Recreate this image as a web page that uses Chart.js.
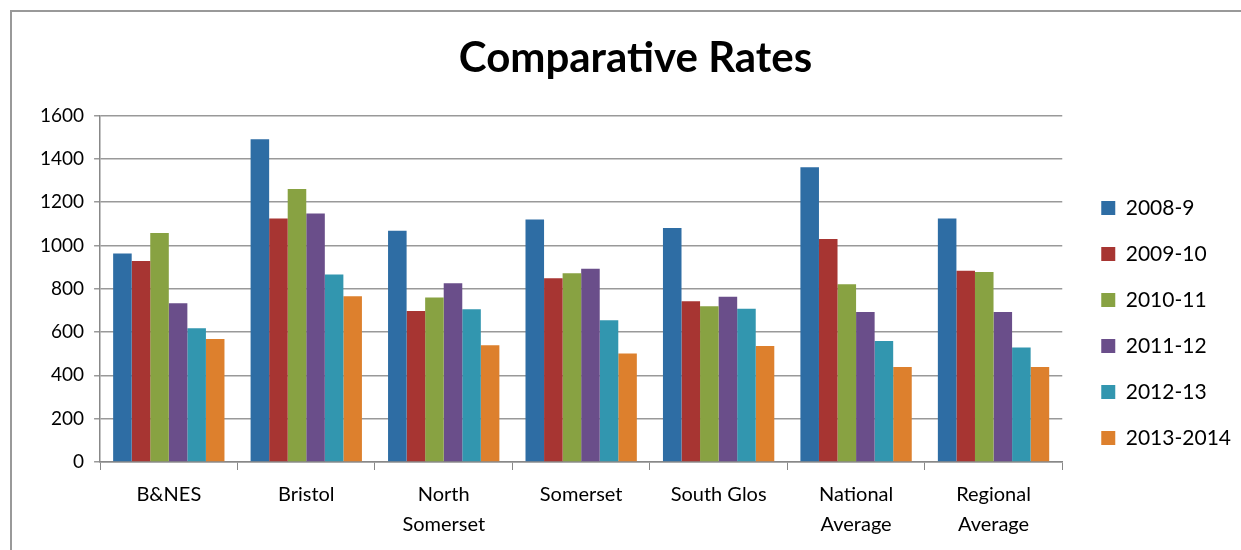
<!DOCTYPE html>
<html>
<head>
<meta charset="utf-8">
<script src="https://cdn.jsdelivr.net/npm/chart.js@4.4.1/dist/chart.umd.min.js"></script>
<style>
  body { margin: 0; background: #fff; }
  #wrap { position: relative; width: 1241px; height: 550px; }
  #frame { position: absolute; left: 10px; top: 10px; width: 1240px; height: 550px;
           border-left: 2px solid #999; border-top: 2px solid #999; }
  canvas { position: absolute; left: 0; top: 0; }
</style>
</head>
<body>
<div id="wrap">
  <div id="frame"></div>
  <canvas id="chart" width="1241" height="550"></canvas>
</div>
<script>
const categories = ["B&NES", "Bristol", ["North", "Somerset"], "Somerset", "South Glos", ["National", "Average"], ["Regional", "Average"]];
const seriesNames = ["2008-9", "2009-10", "2010-11", "2011-12", "2012-13", "2013-2014"];
const colors = ["#2E6DA4", "#A73532", "#88A242", "#6A4E8A", "#3296AF", "#DD802D"];

const y2008 = [962, 1490, 1068, 1120, 1080, 1361, 1124];
const y2009 = [928, 1124, 697, 848, 742, 1029, 883];
const y2010 = [1057, 1260, 759, 871, 719, 820, 877];
const y2011 = [733, 1147, 825, 892, 763, 693, 693];
const y2012 = [617, 866, 705, 654, 708, 558, 528];
const y2013 = [568, 765, 539, 501, 535, 438, 438];

const yTicks = [0, 200, 400, 600, 800, 1000, 1200, 1400, 1600];

const allValues = [y2008, y2009, y2010, y2011, y2012, y2013];

const font = "Lato, 'Open Sans', sans-serif";

const ctx = document.getElementById("chart").getContext("2d");

new Chart(ctx, {
  type: "bar",
  data: {
    labels: categories,
    datasets: seriesNames.map((name, i) => ({
      label: name,
      data: allValues[i],
      backgroundColor: colors[i],
      categoryPercentage: 0.81,
      barPercentage: 1.0
    }))
  },
  options: {
    responsive: false,
    animation: false,
    layout: {
      padding: { left: 30, right: 0, top: 0, bottom: 0 }
    },
    plugins: {
      title: {
        display: true,
        text: "Comparative Rates",
        color: "#000",
        font: { family: font, size: 42, weight: "bold" },
        padding: { top: 33, bottom: 32 }
      },
      legend: {
        position: "right",
        align: "start",
        title: {
          display: true,
          text: " ",
          padding: { top: 170, bottom: 0 },
          font: { size: 2 }
        },
        labels: {
          color: "#000",
          font: { family: font, size: 21 },
          boxWidth: 14,
          boxHeight: 14,
          padding: 25
        }
      },
      tooltip: { enabled: false }
    },
    scales: {
      x: {
        grid: {
          offset: true,
          drawOnChartArea: false,
          drawTicks: true,
          tickLength: 8,
          color: "#888"
        },
        border: { color: "#888", width: 1.5 },
        ticks: {
          color: "#000",
          font: { family: font, size: 20, lineHeight: 1.5 },
          maxRotation: 0,
          padding: 10
        }
      },
      y: {
        min: 0,
        max: 1600,
        afterBuildTicks: axis => { axis.ticks = yTicks.map(v => ({ value: v })); },
        grid: { color: "#999", lineWidth: 1.5, tickLength: 6 },
        border: { color: "#888", width: 1.5 },
        ticks: {
          color: "#000",
          font: { family: font, size: 19 },
          padding: 10,
          callback: v => String(v)
        }
      },
      // empty right axis, only keeps a gap between the plot and the legend
      gap: {
        position: "right",
        grid: { display: false },
        border: { display: false },
        ticks: { display: false },
        afterFit: axis => { axis.width = 14; }
      }
    }
  }
});
</script>
</body>
</html>
